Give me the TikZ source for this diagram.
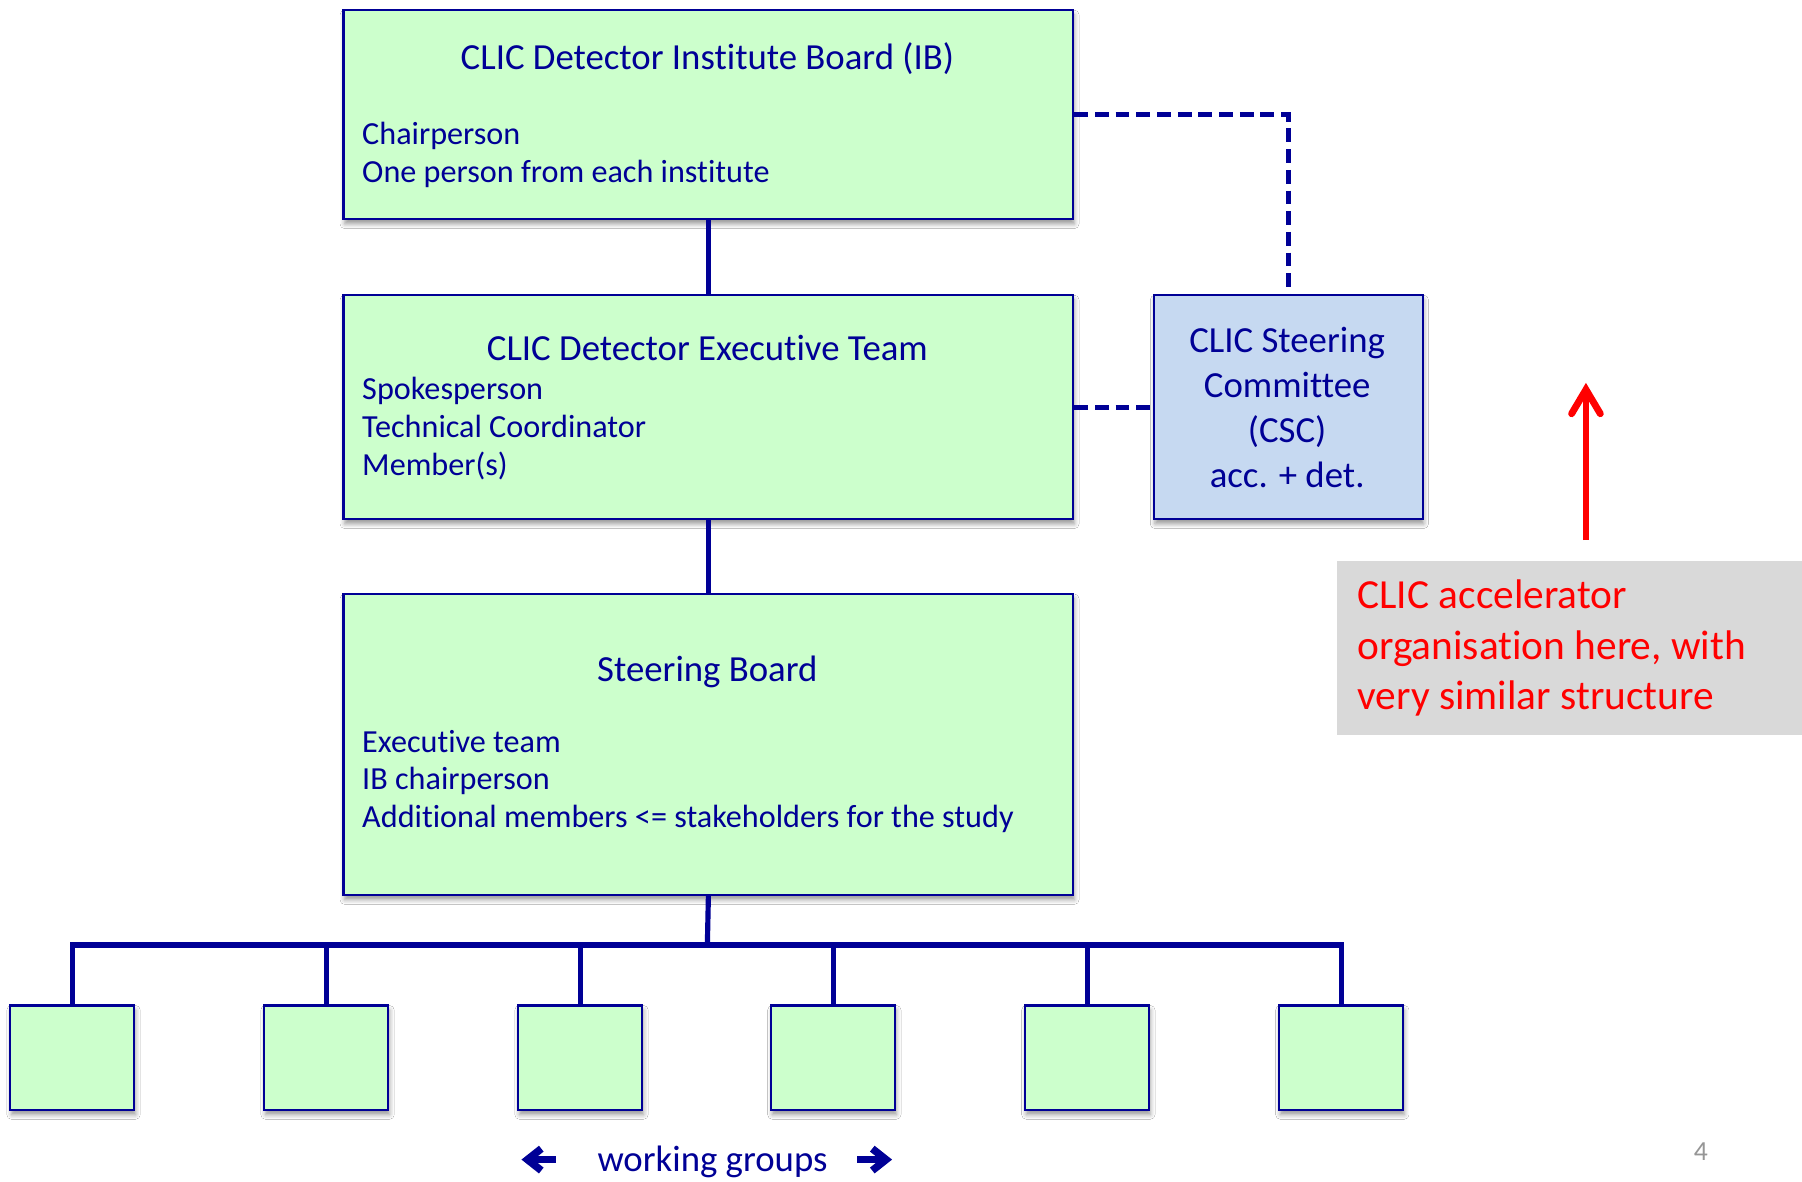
\documentclass[tikz,border=0pt]{standalone}
\usepackage{fontspec}
\setmainfont[Ligatures=NoCommon]{Carlito}
\usetikzlibrary{shadows.blur}
\definecolor{navy}{RGB}{0,0,150}
\definecolor{boxgreen}{RGB}{204,255,204}
\definecolor{boxblue}{RGB}{198,217,241}
\definecolor{notegrey}{RGB}{217,217,217}
\definecolor{pagegrey}{RGB}{150,150,150}
\begin{document}
\begin{tikzpicture}[x=1pt,y=-1pt,
  box/.style={draw=navy, line width=1.8pt, fill=boxgreen, anchor=north west, inner sep=0pt,
    blur shadow={shadow xshift=1pt, shadow yshift=-4pt, shadow blur radius=4pt, shadow opacity=40}},
  titletxt/.style={font=\fontsize{32}{39}\selectfont, text=navy, inner sep=0pt},
  bodytxt/.style={font=\fontsize{28}{33}\selectfont, text=navy, align=left, inner sep=0pt, anchor=west},
  csctxt/.style={font=\fontsize{32}{39}\selectfont, text=navy, align=center, inner sep=0pt},
  notetxt/.style={font=\fontsize{36}{44}\selectfont, text=red, align=left, inner sep=0pt, anchor=west},
  conn/.style={draw=navy, line width=4.5pt},
  busline/.style={draw=navy, line width=5pt, line cap=rect},
  dashconn/.style={draw=navy, line width=4.5pt, dash pattern=on 12pt off 6pt},
  wgarrow/.style={draw=navy, line width=6.5pt}
]
\useasboundingbox[fill=white] (0,0) rectangle (1568,1028);

% main boxes
\node[box, minimum width=635pt, minimum height=182pt] (ib) at (298,8) {};
\node[titletxt] (ibtitle) at (615.5,51) {CLIC Detector Institute Board (IB)};
\node[bodytxt] (ibbody) at (315,134.5) {Chairperson\\One person from each institute};

\node[box, minimum width=635pt, minimum height=195pt] (exec) at (298,256) {};
\node[titletxt] (exectitle) at (615.5,303) {CLIC Detector Executive Team};
\node[bodytxt] (execbody) at (315,373) {Spokesperson\\Technical Coordinator\\Member(s)};

\node[box, minimum width=635pt, minimum height=262pt] (sb) at (298,516) {};
\node[titletxt] (sbtitle) at (615.5,585) {Steering Board};
\node[bodytxt] (sbbody) at (315,680) {Executive team\\IB chairperson\\Additional members <= stakeholders for the study};

\node[box, fill=boxblue, minimum width=234pt, minimum height=195pt] (csc) at (1003,256) {};
\node[csctxt] (csctext) at (1120,354.5) {CLIC Steering\\Committee\\(CSC)\\acc. + det.};

% working group boxes
\foreach \i/\x in {1/63,2/284,3/505,4/725,5/946,6/1167}
  \node[box, anchor=north, minimum width=108pt, minimum height=91pt] (wg\i) at (\x,874) {};

% connectors
\draw[conn] (ib.south) -- (exec.north);
\draw[conn] (exec.south) -- (sb.north);
\coordinate (bus) at (615.5,822);
\draw[conn] (sb.south) -- (bus);
\draw[busline] (wg1.north |- bus) -- (wg6.north |- bus);
\foreach \i in {1,...,6}
  \draw[conn] (wg\i.north) -- (wg\i.north |- bus);

\draw[dashconn] (ib.east) -| (csc.north);
\draw[dashconn] (exec.east) -- (csc.west);

% note box
\node[fill=notegrey, anchor=north west, minimum width=405pt, minimum height=151pt, inner sep=0pt] (note) at (1163,488) {};
\node[notetxt] (notetext) at (1181,564) {CLIC accelerator\\organisation here, with\\very similar structure};

% red arrow
\coordinate (rtail) at (1380,470);
\coordinate (rtip) at (1380,339);
\draw[red, line width=5.5pt] (rtail) -- ([yshift=-4pt]rtip);
\draw[red, line width=6pt, line cap=round, line join=miter, miter limit=10]
  ([xshift=-12.5pt,yshift=-21pt]rtip) -- (rtip) -- ([xshift=12.5pt,yshift=-21pt]rtip);

% working groups label and arrows
\node[titletxt] (wglabel) at (620,1011) {working groups};
\coordinate (la) at (459,1009);
\coordinate (ra) at (771,1009);
\draw[wgarrow, line join=miter, miter limit=10] ([xshift=12pt,yshift=9.5pt]la) -- (la) -- ([xshift=12pt,yshift=-9.5pt]la);
\draw[wgarrow, line width=6pt] ([xshift=3pt]la) -- ([xshift=25pt]la);
\draw[wgarrow, line join=miter, miter limit=10] ([xshift=-12pt,yshift=9.5pt]ra) -- (ra) -- ([xshift=-12pt,yshift=-9.5pt]ra);
\draw[wgarrow, line width=6pt] ([xshift=-3pt]ra) -- ([xshift=-25pt]ra);

% page number
\node[font=\fontsize{24}{28}\selectfont, text=pagegrey, inner sep=0pt] (pagenum) at (1480,1002) {4};
\end{tikzpicture}
\end{document}
